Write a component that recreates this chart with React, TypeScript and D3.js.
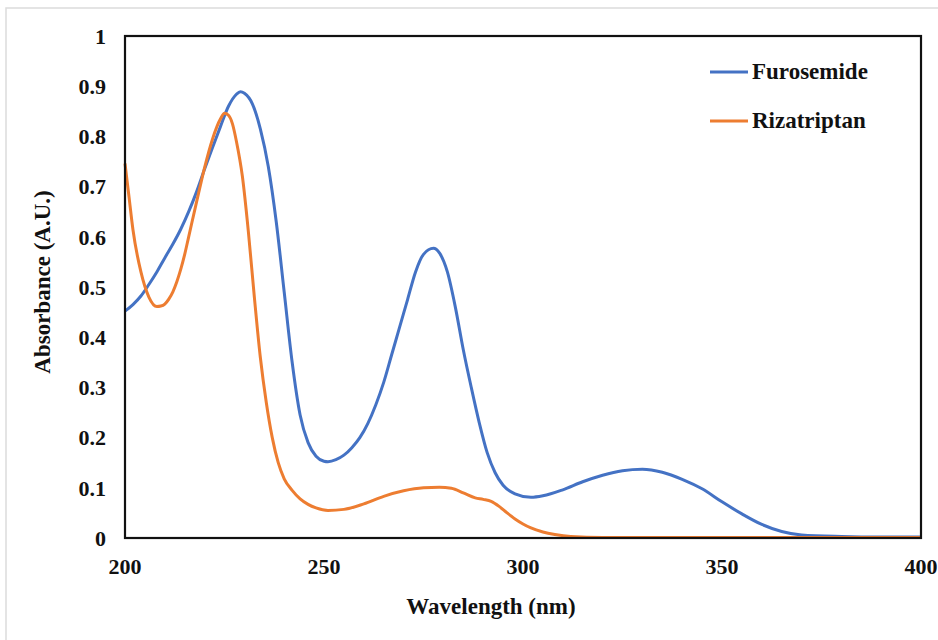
import React from "react";
import * as d3 from "d3";

const furoWl = [200, 202, 204, 206, 208, 210, 212, 214, 216, 218, 220, 222, 224, 226, 228, 229, 230, 232, 234, 236, 238, 240, 242, 244, 246, 248, 250, 251, 253, 255, 257, 259, 261, 263, 265, 267, 269, 271, 273, 275, 277.5, 279, 281, 283, 285, 287, 289, 291, 293, 295, 298, 302, 305, 310, 315, 320, 325, 330, 335, 340, 345, 350, 355, 360, 365, 370, 380, 390, 400];
const furoAbs = [0.452, 0.465, 0.482, 0.505, 0.53, 0.558, 0.585, 0.615, 0.65, 0.69, 0.735, 0.778, 0.82, 0.86, 0.884, 0.889, 0.886, 0.865, 0.815, 0.74, 0.63, 0.49, 0.35, 0.245, 0.19, 0.163, 0.153, 0.152, 0.156, 0.165, 0.18, 0.2, 0.228, 0.265, 0.31, 0.365, 0.42, 0.475, 0.53, 0.565, 0.577, 0.568, 0.53, 0.46, 0.375, 0.3, 0.23, 0.17, 0.13, 0.105, 0.088, 0.081, 0.084, 0.096, 0.112, 0.125, 0.134, 0.137, 0.131, 0.117, 0.098, 0.072, 0.048, 0.027, 0.013, 0.006, 0.003, 0.002, 0.002];

const rizaWl = [200, 201, 202, 204, 206, 208, 209, 210, 211, 212, 213, 214, 215, 216, 218, 220, 222, 224, 225, 226, 227, 228, 229.5, 231, 232.5, 234, 235.5, 237, 238.5, 240, 242, 244, 246, 248, 251, 255, 260, 265, 270, 275, 279, 282, 285, 288, 290, 292, 294, 296, 298, 300, 302, 305, 308, 312, 320, 400];
const rizaAbs = [0.746, 0.68, 0.614, 0.53, 0.48, 0.461, 0.462, 0.466, 0.476, 0.49, 0.51, 0.535, 0.565, 0.6, 0.67, 0.738, 0.795, 0.835, 0.846, 0.842, 0.825, 0.79, 0.72, 0.61, 0.48, 0.36, 0.27, 0.2, 0.15, 0.118, 0.095, 0.078, 0.067, 0.06, 0.055, 0.057, 0.068, 0.083, 0.094, 0.1, 0.101, 0.099, 0.09, 0.08, 0.077, 0.073, 0.063, 0.05, 0.038, 0.028, 0.02, 0.012, 0.007, 0.003, 0.001, 0.001];

const xTicks = [200, 250, 300, 350, 400];
const yTicks = [0, 0.1, 0.2, 0.3, 0.4, 0.5, 0.6, 0.7, 0.8, 0.9, 1];
const seriesNames = ["Furosemide", "Rizatriptan"];
const seriesColors = ["#4472C4", "#ED7D31"];

export default function App() {
  const W = 938, H = 640;
  const left = 125, right = 921, top = 36, bottom = 538;
  const x = d3.scaleLinear().domain([200, 400]).range([left, right]);
  const y = d3.scaleLinear().domain([0, 1]).range([bottom, top]);
  const line = d3
    .line<[number, number]>()
    .x((d) => x(d[0]))
    .y((d) => y(d[1]))
    .curve(d3.curveMonotoneX);
  const series = [
    furoWl.map((w, i) => [w, furoAbs[i]] as [number, number]),
    rizaWl.map((w, i) => [w, rizaAbs[i]] as [number, number]),
  ];
  const font = "'Liberation Serif', 'Times New Roman', serif";
  return (
    <svg
      width={W}
      height={H}
      style={{ position: "absolute", left: 0, top: 0, background: "#fff" }}
      fontFamily={font}
      fontWeight="bold"
    >
      <rect x={6} y={8} width={1000} height={1000} fill="#fff" stroke="#dcdcdc" strokeWidth={1.5} />
      {yTicks.map((t) => (
        <text key={t} x={106} y={y(t)} dy="0.35em" textAnchor="end" fontSize={22} fill="#111">
          {t === 0 ? "0" : t === 1 ? "1" : t.toFixed(1)}
        </text>
      ))}
      {xTicks.map((t) => (
        <text key={t} x={x(t)} y={574} textAnchor="middle" fontSize={22} fill="#111">
          {t}
        </text>
      ))}
      {series.map((s, i) => (
        <path key={i} d={line(s) || ""} fill="none" stroke={seriesColors[i]} strokeWidth={3} />
      ))}
      <rect x={left} y={top} width={right - left} height={bottom - top} fill="none" stroke="#111" strokeWidth={2.2} />
      {seriesNames.map((n, i) => (
        <g key={n} transform={`translate(0, ${72 + i * 49})`}>
          <line x1={710} x2={748} y1={0} y2={0} stroke={seriesColors[i]} strokeWidth={3} />
          <text x={752} y={0} dy="0.3em" fontSize={23} fill="#111">
            {n}
          </text>
        </g>
      ))}
      <text x={491} y={614} textAnchor="middle" fontSize={23} fill="#111">
        Wavelength (nm)
      </text>
      <text
        transform={`translate(50, 282) rotate(-90)`}
        textAnchor="middle"
        fontSize={23}
        fill="#111"
      >
        Absorbance (A.U.)
      </text>
    </svg>
  );
}
